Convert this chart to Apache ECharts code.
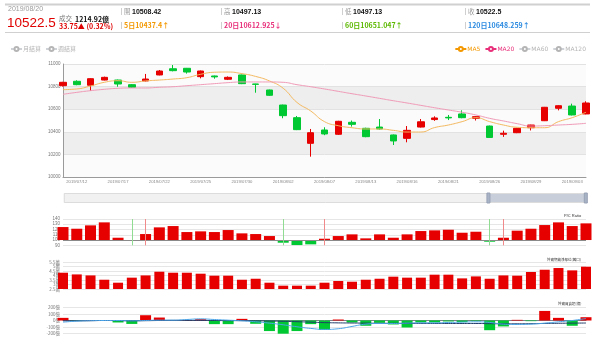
<!DOCTYPE html>
<html>
<head>
<meta charset="utf-8">
<script src="https://cdn.jsdelivr.net/npm/echarts@6/dist/echarts.min.js"></script>
<style>
html,body{margin:0;padding:0;background:#fff}
#chart{width:600px;height:342px}
</style>
</head>
<body>
<div id="chart"></div>
<script>
// Trading days shown
const dates = [
  '2019/07/11','2019/07/12','2019/07/15','2019/07/16','2019/07/17','2019/07/18','2019/07/19',
  '2019/07/22','2019/07/23','2019/07/24','2019/07/25','2019/07/26','2019/07/29','2019/07/30',
  '2019/07/31','2019/08/01','2019/08/02','2019/08/05','2019/08/06','2019/08/07','2019/08/08',
  '2019/08/12','2019/08/13','2019/08/14','2019/08/15','2019/08/16','2019/08/19','2019/08/20',
  '2019/08/21','2019/08/22','2019/08/23','2019/08/26','2019/08/27','2019/08/28','2019/08/29',
  '2019/08/30','2019/09/02','2019/09/03','2019/09/04'
];

// Daily index candles: [open, close, low, high]
const ohlc = [
  [10808,10838,10800,10842],[10847,10817,10812,10856],[10812,10870,10764,10874],[10858,10882,10855,10888],
  [10858,10823,10799,10862],[10817,10794,10790,10822],[10850,10867,10846,10912],[10903,10938,10900,10947],
  [10958,10941,10935,10991],[10962,10929,10915,10965],[10888,10938,10873,10942],[10894,10886,10870,10897],
  [10865,10882,10858,10890],[10903,10826,10822,10906],[10823,10820,10746,10825],[10770,10723,10718,10773],
  [10637,10543,10520,10640],[10525,10419,10415,10540],[10298,10392,10180,10425],[10416,10381,10370,10440],
  [10378,10493,10372,10497],[10484,10466,10446,10500],[10431,10357,10352,10436],[10442,10425,10420,10513],
  [10372,10319,10283,10376],[10342,10413,10307,10451],[10442,10488.75,10438,10513],[10508.42,10522.5,10497.13,10537],
  [10528,10523,10504,10549],[10558,10525,10520,10590],[10519,10534,10500,10538],[10451,10350,10345,10455],
  [10378,10387,10355,10410],[10392,10431,10388,10435],[10436,10460,10412,10462],[10498,10617,10495,10620],
  [10608,10631,10590,10635],[10628,10549,10545,10649],[10558,10655,10555,10670]
];

// Moving averages
const ma5 = [
  10773,10779,10805,10838,10852,10838,10850,10858,10867,10879,10909,10927,10929,10915,
  10890,10850,10785,10660,10584,10490,10454,10436,10425,10425,10413,10398,10398,10437.4,
  10460,10490,10525,10490,10460,10440,10436,10436,10490,10525,10573
];
const ma20 = [
  10732,10749,10764,10776,10785,10788,10788,10794,10799,10808,10817,10826,10835,10841,
  10841,10841,10838,10817,10799,10779,10758,10737,10717,10696,10675,10655,10634,10612.925,
  10593,10573,10549,10519,10496,10472,10451,10454,10460,10466,10475
];

// Put/Call ratio (%)
const pcRatio = [
  124.7,121.5,127.9,133.6,104.4,100,111.4,124.1,126.6,115.2,116.5,115.2,119.0,112.7,
  111.4,107.6,94.9,90.5,91.8,102.5,107.6,110.8,103.2,110.8,104.4,110.8,117.1,118.4,
  119.6,113.9,115.8,96.8,104.4,117.8,121.5,128.5,133.6,126.6,131.7
];
const pcUpMarks = ['2019/07/19','2019/08/07','2019/08/27'];
const pcDownMarks = ['2019/07/18','2019/08/02','2019/08/26'];

// Foreign futures open interest (10k contracts)
const futuresOI = [
  4.31,4.12,4.01,3.53,3.2,3.76,4.01,4.42,4.31,4.31,4.2,3.98,3.98,3.53,
  3.64,3.2,2.87,2.87,2.87,3.2,3.39,3.31,3.53,3.64,3.87,3.76,3.76,4.09,
  4.09,3.68,3.9,3.64,4.01,3.98,4.39,4.64,4.83,4.57,4.98
];

// Foreign net buy/sell (100M TWD) and its two trend lines
const foreignNet = [
  40,-5,5,5,-30,-52,80,45,3,5,20,-55,-55,25,-50,-160,-200,-160,-55,-142,
  15,-30,-80,-35,-60,-106,-30,-30,-15,-25,-10,-147,-90,10,-10,145,40,-80,50
];
const foreignFast = [
  -25,-10,-3,0,0,-5,0,5,5,15,25,15,5,-5,-20,-40,-65,-95,-120,-135,
  -125,-90,-55,-45,-45,-40,-35,-35,-30,-25,-20,-30,-55,-60,-55,-40,-20,0,30
];
const foreignSlow = [
  -5,-5,-3,0,-2,-5,-3,0,2,2,2,0,-2,-2,-5,-8,-12,-18,-25,-32,
  -36,-38,-40,-42,-43,-44,-44,-45,-45,-45,-45,-48,-50,-50,-48,-45,-42,-40,-38
];

// Quote header fields
const quoteDate = '2019/08/20';
const quoteLast = '10522.5';
const quoteTurnover = '1214.92億';
const quoteChange = '33.75▲ (0.32%)';
const quoteCells = [
  ['開','10508.42'],['高','10497.13'],['低','10497.13'],['收','10522.5']
];
const maCells = ['5日10437.4↑','20日10612.925↓','60日10651.047↑','120日10648.259↑'];

const RED = '#e60000', GREEN = '#00c832';
const FONT = '"Liberation Sans","Noto Sans CJK TC",sans-serif';
const CJK = '"Noto Sans CJK TC","Liberation Sans",sans-serif';
const maColors = ['#f39800','#e8307a','#5cb800','#2b8ae0'];

const chart = echarts.init(document.getElementById('chart'), null, {renderer: 'canvas'});

const colX = [121, 221, 342, 465];
const graphic = [
  {type:'line', shape:{x1:5,y1:4.5,x2:590,y2:4.5}, style:{stroke:'#d0d0d0', lineWidth:2}},
  {type:'line', shape:{x1:5,y1:32.5,x2:590,y2:32.5}, style:{stroke:'#d0d0d0', lineWidth:1.2}},
  {type:'text', x:8, y:9.5, style:{text:quoteDate, font:'7px '+FONT, fill:'#9a9a9a', verticalAlign:'middle'}},
  {type:'text', x:7, y:23, style:{text:quoteLast, font:'13.5px '+FONT, fill:'#e00000', verticalAlign:'middle'}},
  {type:'text', x:59, y:19, style:{text:'成交', font:'6.5px '+CJK, fill:'#777', verticalAlign:'middle'}},
  {type:'text', x:75, y:19, style:{text:quoteTurnover, font:'bold 7px '+CJK, fill:'#111', verticalAlign:'middle'}},
  {type:'text', x:59, y:26, style:{text:quoteChange, font:'bold 7px '+CJK, fill:'#e00000', verticalAlign:'middle'}}
];
quoteCells.forEach(function (c, i) {
  graphic.push({type:'rect', shape:{x:colX[i], y:8, width:1, height:7}, style:{fill:'#cfcfcf'}});
  graphic.push({type:'text', x:colX[i]+3, y:11.7, style:{text:c[0], font:'6.5px '+CJK, fill:'#999', verticalAlign:'middle'}});
  graphic.push({type:'text', x:colX[i]+11, y:11.7, style:{text:c[1], font:'bold 7px '+FONT, fill:'#111', verticalAlign:'middle'}});
});
maCells.forEach(function (t, i) {
  graphic.push({type:'rect', shape:{x:colX[i], y:22, width:1, height:7}, style:{fill:'#cfcfcf'}});
  graphic.push({type:'text', x:colX[i]+3, y:25.5, style:{text:t, font:'bold 7px '+CJK, fill:maColors[i], verticalAlign:'middle'}});
});
graphic.push({type:'text', x:564, y:216, style:{text:'P/C Ratio', font:'4px '+FONT, fill:'#333', verticalAlign:'middle'}});
graphic.push({type:'text', x:547, y:260, style:{text:'外資期貨淨部位(萬口)', font:'3.5px '+CJK, fill:'#333', verticalAlign:'middle'}});
graphic.push({type:'text', x:558, y:304, style:{text:'外資買賣超(億)', font:'3.5px '+CJK, fill:'#333', verticalAlign:'middle'}});

const grids = [
  {left:63, right:14, top:64, height:113},
  {left:63, right:14, top:219, height:26.3},
  {left:63, right:14, top:262, height:27},
  {left:63, right:14, top:307.3, height:26.4}
];

function subX(i, extra) {
  return Object.assign({
    type:'category', gridIndex:i, data:dates, boundaryGap:false,
    axisLine:{show:false}, axisTick:{show:false}, axisLabel:{show:false}, splitLine:{show:false}
  }, extra || {});
}
const smallLabel = {fontSize:4.5, color:'#777', margin:3, fontFamily:FONT};
const subSplit = {show:true, lineStyle:{color:'#e6e6e6', width:1}};

const option = {
  animation:false,
  textStyle:{fontFamily:FONT},
  graphic:graphic,
  legend:[
    {
      left:5, top:41, itemWidth:11, itemHeight:5, itemGap:4,
      data:['月結算','週結算'],
      selected:{'月結算':false,'週結算':false},
      inactiveColor:'#b5b5b5', inactiveBorderColor:'#b5b5b5',
      textStyle:{fontSize:6, fontFamily:CJK, padding:[0,0,0,-4]}
    },
    {
      right:9, top:41, itemWidth:11, itemHeight:5, itemGap:4,
      data:[
        {name:'MA5', itemStyle:{color:maColors[0]}, lineStyle:{color:maColors[0], opacity:1}, textStyle:{color:maColors[0]}},
        {name:'MA20', itemStyle:{color:maColors[1]}, lineStyle:{color:maColors[1], opacity:1}, textStyle:{color:maColors[1]}},
        {name:'MA60'},
        {name:'MA120'}
      ],
      selected:{'MA60':false,'MA120':false},
      inactiveColor:'#b5b5b5', inactiveBorderColor:'#b5b5b5',
      textStyle:{fontSize:6, fontFamily:'"DejaVu Sans",sans-serif', padding:[0,0,0,-4]}
    }
  ],
  grid:grids,
  xAxis:[
    {
      type:'category', gridIndex:0, data:dates, boundaryGap:false,
      axisLine:{lineStyle:{color:'#9a9a9a', width:1}},
      axisTick:{show:false},
      axisLabel:{fontSize:4.2, color:'#888', margin:2.5, interval:function (i) { return i % 3 === 1; }},
      splitLine:{show:false}
    },
    subX(1),
    subX(2),
    subX(3, {axisLine:{show:true, onZero:true, lineStyle:{color:'#7a7f8a', width:1}}}),
    {type:'category', gridIndex:0, data:dates, show:false}
  ],
  yAxis:[
    {
      type:'value', gridIndex:0, min:10000, max:11000, interval:200, scale:true,
      axisLine:{show:true, lineStyle:{color:'#9a9a9a'}},
      axisTick:{show:false},
      axisLabel:{fontSize:4.5, color:'#777', margin:2.5, formatter:function (v) { return String(v); }},
      splitLine:{show:true, lineStyle:{color:'#e2e2e2', width:1}},
      splitArea:{show:true, areaStyle:{color:['#fbfbfb','#eeeeee']}}
    },
    {
      type:'value', gridIndex:1, min:90, max:140, interval:10,
      axisLine:{show:false}, axisTick:{show:false},
      axisLabel:Object.assign({formatter:function (v) { return String(v); }}, smallLabel),
      splitLine:subSplit
    },
    {
      type:'value', gridIndex:2, min:2.5, max:5.5, interval:0.5,
      axisLine:{show:false}, axisTick:{show:false},
      axisLabel:Object.assign({formatter:function (v) { return v + '萬'; }}, smallLabel, {fontFamily:CJK}),
      splitLine:subSplit
    },
    {
      type:'value', gridIndex:3, min:-200, max:200, interval:100,
      axisLine:{show:false}, axisTick:{show:false},
      axisLabel:Object.assign({formatter:function (v) { return v + '億'; }}, smallLabel, {fontFamily:CJK}),
      splitLine:subSplit
    }
  ],
  dataZoom:[{
    type:'slider', xAxisIndex:4, filterMode:'none', start:81, end:100,
    left:63, right:14, top:193, height:10,
    showDetail:false, showDataShadow:false, brushSelect:false, moveHandleSize:0,
    backgroundColor:'#f1f1f1', borderColor:'#dcdcdc',
    fillerColor:'rgba(160,174,198,0.5)',
    handleIcon:'path://M0,0 L3,0 L3,10 L0,10 Z', handleSize:'100%',
    handleStyle:{color:'#a9b3c6', borderColor:'#98a2b6'}
  }],
  series:[
    {
      name:'K', type:'candlestick', xAxisIndex:0, yAxisIndex:0, data:ohlc, barWidth:7,
      itemStyle:{color:RED, color0:GREEN, borderColor:RED, borderColor0:GREEN, borderWidth:1}
    },
    {
      name:'MA5', type:'line', xAxisIndex:0, yAxisIndex:0, data:ma5, smooth:true,
      symbol:'emptyCircle', showSymbol:false,
      itemStyle:{color:maColors[0]}, lineStyle:{color:'#f4b960', width:1}
    },
    {
      name:'MA20', type:'line', xAxisIndex:0, yAxisIndex:0, data:ma20, smooth:true,
      symbol:'emptyCircle', showSymbol:false,
      itemStyle:{color:maColors[1]}, lineStyle:{color:'#f09ab6', width:1}
    },
    {name:'MA60', type:'line', xAxisIndex:0, yAxisIndex:0, data:[], symbol:'emptyCircle', itemStyle:{color:maColors[2]}},
    {name:'MA120', type:'line', xAxisIndex:0, yAxisIndex:0, data:[], symbol:'emptyCircle', itemStyle:{color:maColors[3]}},
    {name:'月結算', type:'line', xAxisIndex:0, yAxisIndex:0, data:[], symbol:'emptyCircle', itemStyle:{color:'#888'}},
    {name:'週結算', type:'line', xAxisIndex:0, yAxisIndex:0, data:[], symbol:'emptyCircle', itemStyle:{color:'#888'}},
    {
      name:'pcBase', type:'bar', xAxisIndex:1, yAxisIndex:1, stack:'pc', barWidth:11, silent:true,
      data:pcRatio.map(function (v) { return Math.min(v, 100); }),
      itemStyle:{color:'rgba(0,0,0,0)'}
    },
    {
      name:'pc', type:'bar', xAxisIndex:1, yAxisIndex:1, stack:'pc', barWidth:11,
      data:pcRatio.map(function (v) {
        return {value:Math.abs(v - 100), itemStyle:{color: v >= 100 ? RED : GREEN}};
      }),
      markLine:{
        silent:true, symbol:'none', label:{show:false},
        data:[{yAxis:100, lineStyle:{color:'#8a8a8a', width:1, type:'solid'}}]
          .concat(pcDownMarks.map(function (d) { return {xAxis:d, lineStyle:{color:'#8fdc92', width:1, type:'solid'}}; }))
          .concat(pcUpMarks.map(function (d) { return {xAxis:d, lineStyle:{color:'#f08a8a', width:1, type:'solid'}}; }))
      }
    },
    {
      name:'futuresOI', type:'bar', xAxisIndex:2, yAxisIndex:2, barWidth:10,
      data:futuresOI, itemStyle:{color:RED}
    },
    {
      name:'foreignNet', type:'bar', xAxisIndex:3, yAxisIndex:3, barWidth:11,
      data:foreignNet.map(function (v) { return {value:v, itemStyle:{color: v >= 0 ? RED : GREEN}}; })
    },
    {
      name:'foreignSlow', type:'line', xAxisIndex:3, yAxisIndex:3, data:foreignSlow, smooth:true,
      showSymbol:false, lineStyle:{color:'#1e3a68', width:1}
    },
    {
      name:'foreignFast', type:'line', xAxisIndex:3, yAxisIndex:3, data:foreignFast, smooth:true,
      showSymbol:false, lineStyle:{color:'#4aa3e6', width:1}
    }
  ]
};

chart.setOption(option);
</script>
</body>
</html>
